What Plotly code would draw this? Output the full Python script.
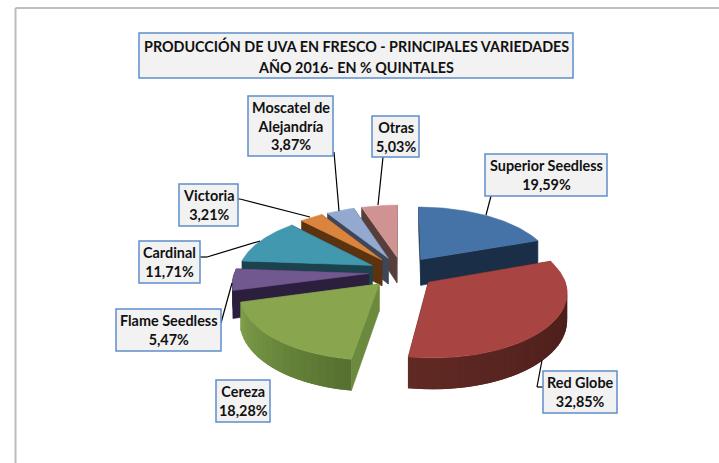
import math
import plotly.graph_objects as go

categories = ["Superior Seedless", "Red Globe", "Cereza", "Flame Seedless",
              "Cardinal", "Victoria", "Moscatel de<br>Alejandría", "Otras"]
values = [19.59, 32.85, 18.28, 5.47, 11.71, 3.21, 3.87, 5.03]
title_lines = ["PRODUCCIÓN DE UVA EN FRESCO - PRINCIPALES VARIEDADES",
               "AÑO 2016- EN % QUINTALES"]

# styles: top, radial face, wall colour at start angle, wall colour at end angle
top_colors = ["#4572a7", "#a84441", "#89a54e", "#71588f", "#4198af", "#db843d", "#93a9cf", "#d19392"]
face_colors = ["#1a2f47", "#4a1c18", "#6b8a3e", "#2c1f3d", "#1b424d", "#5c3310", "#3d4759", "#573e3d"]
wall_start = ["#1a2f47", "#431a16", "#55702f", "#2c1f3d", "#1b424d", "#5c3310", "#3d4759", "#573e3d"]
wall_end = ["#1a2f47", "#612924", "#80a04b", "#2c1f3d", "#1b424d", "#5c3310", "#3d4759", "#573e3d"]

# projection of the tilted pie on to the page
CX, CY, A, B, PERSP, DEPTH, PULL = 402, 272, 134, 62.6, 0.134, 26.5, 0.25

boxes = [  # x0, y0, x1, y1 for each category, same order
    (485, 154, 607, 196), (543, 371, 617, 413), (216, 380, 270, 422), (116, 309, 221, 351),
    (139, 241, 200, 283), (179, 184, 238, 226), (248, 96, 333, 156), (372, 116, 419, 157)]
leaders = [
    [(491, 196), (486, 215)], [(543, 387), (537, 387), (542, 360)], [], [(221, 323), (232, 283)],
    [(200, 257), (207, 257), (260, 241)], [(238, 199), (240, 199), (310, 217)],
    [(334, 152), (339, 211)], [(383, 157), (378, 205)]]


def hex_mix(c1, c2, t):
    a = [int(c1[i:i + 2], 16) for i in (1, 3, 5)]
    b = [int(c2[i:i + 2], 16) for i in (1, 3, 5)]
    return "rgb(%d,%d,%d)" % tuple(round(p + (q - p) * t) for p, q in zip(a, b))


def project(px, py):
    s = 1 / (1 + PERSP * py)
    return CX + A * px * s, CY - B * py * s, DEPTH * s


fig = go.Figure()


def poly(points, color, width=0.6):
    xs = [p[0] for p in points] + [points[0][0]]
    ys = [p[1] for p in points] + [points[0][1]]
    fig.add_trace(go.Scatter(x=xs, y=ys, mode="lines", fill="toself", fillcolor=color,
                             line=dict(color=color, width=width), hoverinfo="skip", showlegend=False))


total = sum(values)
slices = []
angle = 0.0
for i, v in enumerate(values):
    sweep = v / total * 2 * math.pi
    slices.append((i, angle, angle + sweep))
    angle += sweep


def rim(th, ox, oy):
    return project(ox + math.sin(th), oy + math.cos(th))


for i, t0, t1 in sorted(slices, key=lambda s: -math.cos((s[1] + s[2]) / 2)):
    mid = (t0 + t1) / 2
    ox, oy = PULL * math.sin(mid), PULL * math.cos(mid)
    ax, ay, ad = project(ox, oy)
    for th in (t1, t0):
        rx, ry, rd = rim(th, ox, oy)
        poly([(ax, ay), (rx, ry), (rx, ry + rd), (ax, ay + ad)], face_colors[i])
    n = max(2, int((t1 - t0) / math.radians(3)))
    for k in range(n):
        a0 = t0 + (t1 - t0) * k / n
        a1 = min(t1, t0 + (t1 - t0) * (k + 2) / n)  # overlaps the next strip to hide seams
        if math.cos((a0 + a1) / 2) > 0.05:
            continue
        strip_top = [rim(a0 + (a1 - a0) * j / 6, ox, oy) for j in range(7)]
        pts = [(p[0], p[1]) for p in strip_top] + [(p[0], p[1] + p[2]) for p in reversed(strip_top)]
        poly(pts, hex_mix(wall_start[i], wall_end[i], (k + 0.5) / n), width=0)
    arc = [rim(t0 + (t1 - t0) * j / 60, ox, oy) for j in range(61)]
    poly([(ax, ay)] + [(p[0], p[1]) for p in arc], top_colors[i])

shapes = [
    dict(type="line", xref="x", yref="y", x0=15.5, x1=719, y0=8, y1=8, line=dict(color="#bdbdbd", width=2)),
    dict(type="line", xref="x", yref="y", x0=15.5, x1=15.5, y0=8, y1=463, line=dict(color="#bdbdbd", width=2)),
    dict(type="rect", xref="x", yref="y", x0=139, x1=573, y0=33, y1=78, fillcolor="#f2f2f2",
         line=dict(color="#5f8fcb", width=1.5)),
]
for pts in leaders:
    for p, q in zip(pts, pts[1:]):
        shapes.append(dict(type="line", xref="x", yref="y", x0=p[0], y0=p[1], x1=q[0], y1=q[1],
                           line=dict(color="#000000", width=1.2)))
for b in boxes:
    shapes.append(dict(type="rect", xref="x", yref="y", x0=b[0], x1=b[2], y0=b[1], y1=b[3],
                       fillcolor="#f2f2f2", line=dict(color="#5f8fcb", width=1.5)))

FONT = dict(family="Lato", size=14.4, color="#111111")
TITLE_FONT = dict(family="Lato", size=14.35, color="#111111")
annotations = [
    dict(x=356, y=45.5, xref="x", yref="y", showarrow=False, text=f"<b>{title_lines[0]}</b>", font=TITLE_FONT),
    dict(x=356, y=66.5, xref="x", yref="y", showarrow=False, text=f"<b>{title_lines[1]}</b>", font=TITLE_FONT),
]
for name, v, b in zip(categories, values, boxes):
    label = f"{name}<br>{v:.2f}%".replace(".", ",")
    annotations.append(dict(x=(b[0] + b[2]) / 2, y=(b[1] + b[3]) / 2, xref="x", yref="y", showarrow=False,
                            align="center", text=f"<b>{label}</b>", font=FONT))

fig.update_layout(
    width=719, height=463, margin=dict(l=0, r=0, t=0, b=0),
    paper_bgcolor="white", plot_bgcolor="white", showlegend=False,
    xaxis=dict(range=[0, 719], visible=False, fixedrange=True),
    yaxis=dict(range=[463, 0], visible=False, fixedrange=True),
    shapes=shapes, annotations=annotations,
)
fig.write_html("out.html", config=dict(displayModeBar=False),
               post_script="document.body.style.margin='0';document.body.style.overflow='hidden';")
